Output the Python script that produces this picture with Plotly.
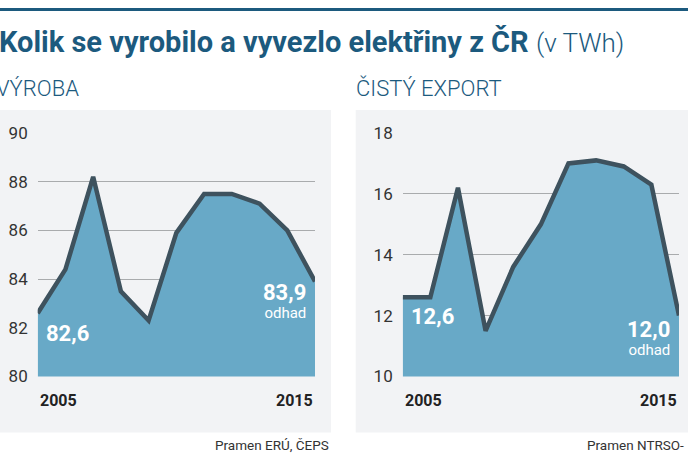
import plotly.graph_objects as go

# data (TWh)
years = list(range(2005, 2016))
vyroba = [82.6, 84.4, 88.2, 83.5, 82.3, 85.9, 87.5, 87.5, 87.1, 86.0, 83.9]
export = [12.6, 12.6, 16.2, 11.5, 13.6, 15.0, 17.0, 17.1, 16.9, 16.3, 12.0]

BLUE = '#1c5a7e'
FILL = '#68a9c7'
LINE = '#3e525e'
FONT = 'Roboto, sans-serif'

W, H = 688, 459


def px(x):
    return x / W


def py(y):
    return 1 - y / H


fig = go.Figure()

fig.add_trace(go.Scatter(
    x=years, y=vyroba, mode='lines', fill='tozeroy',
    fillcolor=FILL, line=dict(color=LINE, width=4.5),
    xaxis='x', yaxis='y', hoverinfo='skip', showlegend=False
))
fig.add_trace(go.Scatter(
    x=years, y=export, mode='lines', fill='tozeroy',
    fillcolor=FILL, line=dict(color=LINE, width=4.5),
    xaxis='x2', yaxis='y2', hoverinfo='skip', showlegend=False
))

xcommon = dict(range=[2005, 2015], showgrid=False, showticklabels=False,
               zeroline=False, showline=False, fixedrange=True, automargin=False)
ycommon = dict(showgrid=True, gridcolor='#a9abad', gridwidth=1, zeroline=False,
               showline=False, ticks='', ticklabelstandoff=9, automargin=False,
               fixedrange=True,
               tickfont=dict(family=FONT, size=17, color='#333333'))

fig.update_layout(
    width=W, height=H,
    margin=dict(l=0, r=0, t=0, b=0, autoexpand=False),
    paper_bgcolor='white',
    plot_bgcolor='#eaebec',
    xaxis=dict(domain=[px(37.7), px(315)], anchor='y', **xcommon),
    yaxis=dict(domain=[py(376.5), py(133)], anchor='x', range=[80, 90],
               tickvals=[80, 82, 84, 86, 88, 90], **ycommon),
    xaxis2=dict(domain=[px(402.7), px(679)], anchor='y2', **xcommon),
    yaxis2=dict(domain=[py(376.5), py(133)], anchor='x2', range=[10, 18],
                tickvals=[10, 12, 14, 16, 18], **ycommon),
)

# panels and top rule
fig.add_shape(type='rect', xref='paper', yref='paper', layer='below',
              x0=0, x1=px(331), y0=py(432.5), y1=py(110),
              fillcolor='#f2f3f5', line_width=0)
fig.add_shape(type='rect', xref='paper', yref='paper', layer='below',
              x0=px(355.7), x1=1, y0=py(432.5), y1=py(110),
              fillcolor='#f2f3f5', line_width=0)
fig.add_shape(type='line', xref='paper', yref='paper',
              x0=0, x1=1, y0=py(9.5), y1=py(9.5),
              line=dict(color=BLUE, width=3))

# titles
fig.add_annotation(
    text="<b>Kolik se vyrobilo a vyvezlo elektřiny z ČR</b> "
         "<span style='font-size:26px;font-weight:300'>(v TWh)</span>",
    xref='paper', yref='paper', x=px(-3), y=py(42), xanchor='left', yanchor='middle',
    showarrow=False, font=dict(family=FONT, size=29, color=BLUE))
fig.add_annotation(
    text="VÝROBA", xref='paper', yref='paper', x=px(-6), y=py(88),
    xanchor='left', yanchor='middle', showarrow=False,
    font=dict(family=FONT, size=22, color=BLUE, weight=300))
fig.add_annotation(
    text="ČISTÝ EXPORT", xref='paper', yref='paper', x=px(354), y=py(88),
    xanchor='left', yanchor='middle', showarrow=False,
    font=dict(family=FONT, size=22, color=BLUE, weight=300))

# year labels
for xa in ['x', 'x2']:
    fig.add_annotation(text="<b>%d</b>" % years[0], xref=xa, yref='paper',
                       x=years[0], y=py(400), xanchor='left', yanchor='middle',
                       showarrow=False, font=dict(family=FONT, size=16, color='#222222'))
    fig.add_annotation(text="<b>%d</b>" % years[-1], xref=xa, yref='paper',
                       x=years[-1], y=py(400), xanchor='right', yanchor='middle',
                       showarrow=False, font=dict(family=FONT, size=16, color='#222222'))


def fmt(v):
    return ('%.1f' % v).replace('.', ',')


# value labels
for xa, ya, vals, s0, s1 in [('x', 'y', vyroba, -6, 4), ('x2', 'y2', export, -5, 1)]:
    fig.add_annotation(text="<b>%s</b>" % fmt(vals[0]), xref=xa, yref=ya,
                       x=years[0], y=vals[0], xanchor='left', yanchor='top',
                       xshift=6, yshift=s0, showarrow=False,
                       font=dict(family=FONT, size=22, color='white'))
    fig.add_annotation(text="<span style='font-size:22px'><b>%s</b></span><br>"
                            "<span style='font-size:15px'>odhad</span>" % fmt(vals[-1]),
                       xref=xa, yref=ya, align='right',
                       x=years[-1], y=vals[-1], xanchor='right', yanchor='top',
                       xshift=-7, yshift=s1, showarrow=False,
                       font=dict(family=FONT, size=14, color='white'))

# sources
fig.add_annotation(text="Pramen ERÚ, ČEPS", xref='paper', yref='paper',
                   x=px(331), y=py(445), xanchor='right', yanchor='middle',
                   showarrow=False, font=dict(family=FONT, size=13.5, color='#333333'))
fig.add_annotation(text="Pramen NTRSO-", xref='paper', yref='paper',
                   x=px(686), y=py(445), xanchor='right', yanchor='middle',
                   showarrow=False, font=dict(family=FONT, size=13.5, color='#333333'))

fig.write_html("out.html", config={'displayModeBar': False},
               post_script="document.body.style.margin='0';")
